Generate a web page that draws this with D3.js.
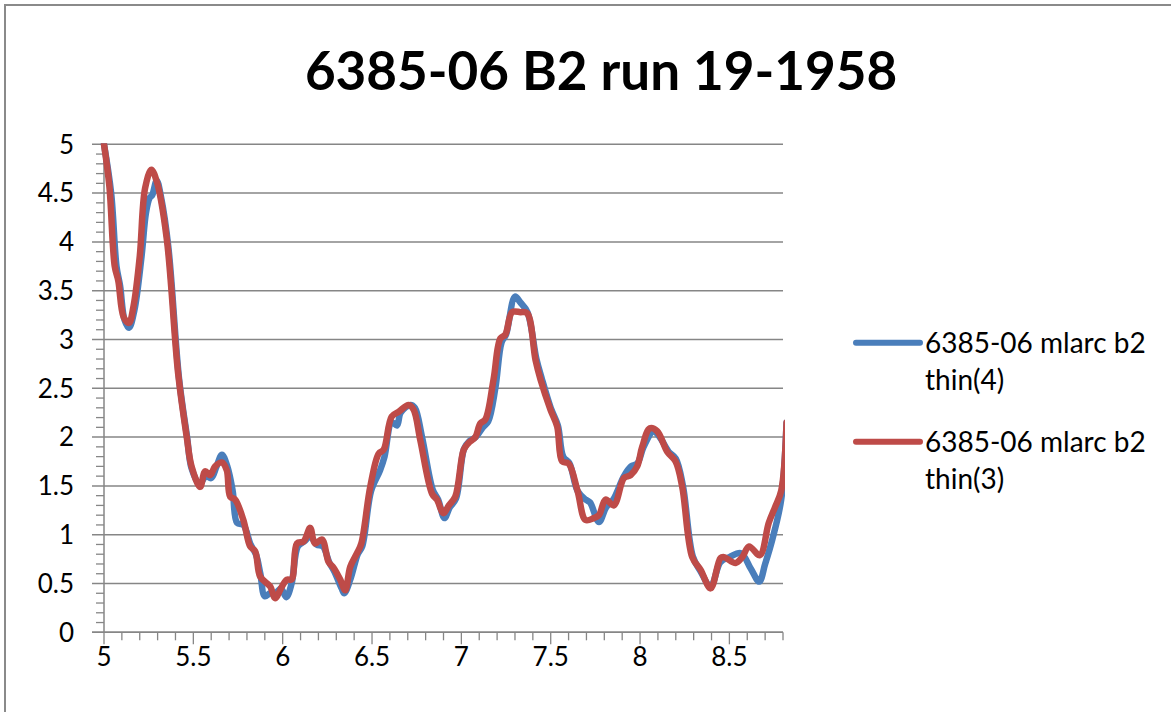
<!DOCTYPE html>
<html>
<head>
<meta charset="utf-8">
<script src="https://cdn.jsdelivr.net/npm/d3@7"></script>
<style>
  html, body { margin: 0; padding: 0; background: #fff; }
  svg { display: block; }
  text { font-family: Lato, "Open Sans", sans-serif; fill: #000; }
</style>
</head>
<body>
<svg id="chart" width="1171" height="712"></svg>
<script>
// Series thin(4)
const blueX = [5.00, 5.04, 5.07, 5.09, 5.115, 5.14, 5.17, 5.21, 5.235, 5.255, 5.27, 5.295, 5.32, 5.36, 5.42,
  5.465, 5.49, 5.535, 5.57, 5.60, 5.63, 5.66, 5.69, 5.72, 5.745, 5.78, 5.82, 5.85, 5.875, 5.90, 5.93, 5.96,
  5.99, 6.02, 6.05, 6.085, 6.12, 6.155, 6.19, 6.225, 6.26, 6.29, 6.33, 6.345, 6.38, 6.42, 6.445, 6.495,
  6.545, 6.57, 6.61, 6.64, 6.66, 6.715, 6.74, 6.78, 6.84, 6.87, 6.905, 6.935, 6.97, 7.015, 7.045, 7.08,
  7.12, 7.15, 7.19, 7.225, 7.25, 7.30, 7.33, 7.37, 7.42, 7.45, 7.50, 7.54, 7.57, 7.605, 7.65, 7.695, 7.72,
  7.77, 7.81, 7.85, 7.91, 7.95, 7.985, 8.02, 8.075, 8.11, 8.16, 8.20, 8.24, 8.295, 8.34, 8.395, 8.45, 8.50,
  8.565, 8.62, 8.667, 8.70, 8.74, 8.79, 8.82];
const blueY = [5.00, 4.50, 3.75, 3.55, 3.20, 3.12, 3.30, 3.85, 4.30, 4.45, 4.48, 4.63, 4.45, 3.95, 2.60,
  2.00, 1.68, 1.52, 1.60, 1.58, 1.70, 1.82, 1.70, 1.45, 1.12, 1.10, 0.90, 0.80, 0.60, 0.37, 0.40, 0.40,
  0.45, 0.36, 0.50, 0.88, 0.93, 0.98, 0.90, 0.88, 0.72, 0.62, 0.45, 0.40, 0.55, 0.80, 0.88, 1.45,
  1.66, 1.80, 2.15, 2.12, 2.25, 2.33, 2.30, 2.00, 1.46, 1.36, 1.17, 1.28, 1.37, 1.88, 1.96, 2.00,
  2.10, 2.16, 2.50, 2.97, 3.05, 3.44, 3.38, 3.28, 2.80, 2.60, 2.30, 2.12, 1.80, 1.73, 1.45, 1.36, 1.33,
  1.13, 1.28, 1.36, 1.60, 1.70, 1.73, 1.90, 2.06, 2.00, 1.85, 1.78, 1.50, 0.78, 0.62, 0.47, 0.72, 0.77,
  0.81, 0.65, 0.52, 0.70, 0.95, 1.36, 2.15];

// Series thin(3)
const redX = [5.00, 5.03, 5.06, 5.08, 5.11, 5.14, 5.165, 5.20, 5.23, 5.265, 5.295, 5.35, 5.415, 5.463,
  5.49, 5.538, 5.566, 5.594, 5.622, 5.66, 5.687, 5.706, 5.734, 5.78, 5.818, 5.846, 5.874, 5.93, 5.958,
  5.996, 6.024, 6.05, 6.08, 6.117, 6.154, 6.18, 6.22, 6.257, 6.285, 6.322, 6.35, 6.378, 6.416, 6.44, 6.49,
  6.537, 6.565, 6.61, 6.65, 6.705, 6.733, 6.77, 6.836, 6.863, 6.90, 6.93, 6.966, 7.013, 7.04, 7.078,
  7.106, 7.134, 7.18, 7.218, 7.246, 7.284, 7.33, 7.368, 7.415, 7.443, 7.499, 7.536, 7.564, 7.60, 7.65,
  7.695, 7.741, 7.77, 7.807, 7.853, 7.91, 7.947, 7.984, 8.012, 8.055, 8.096, 8.152, 8.199, 8.236, 8.292,
  8.339, 8.395, 8.45, 8.47, 8.535, 8.572, 8.61, 8.67, 8.72, 8.755, 8.79, 8.82];
const redY = [5.00, 4.57, 3.75, 3.60, 3.23, 3.17, 3.34, 3.85, 4.55, 4.74, 4.62, 4.05, 2.65, 2.00,
  1.70, 1.49, 1.65, 1.61, 1.70, 1.74, 1.66, 1.39, 1.36, 1.15, 0.88, 0.83, 0.57, 0.47, 0.35,
  0.47, 0.54, 0.54, 0.91, 0.93, 1.07, 0.91, 0.95, 0.72, 0.66, 0.54, 0.43, 0.67, 0.81, 0.91, 1.49,
  1.83, 1.87, 2.21, 2.26, 2.33, 2.28, 1.97, 1.42, 1.36, 1.22, 1.30, 1.39, 1.87, 1.94, 2.00,
  2.14, 2.18, 2.59, 3.01, 3.05, 3.28, 3.28, 3.27, 2.79, 2.59, 2.28, 2.11, 1.75, 1.73, 1.45,
  1.15, 1.17, 1.20, 1.36, 1.30, 1.58, 1.61, 1.70, 1.90, 2.09, 2.06, 1.85, 1.75, 1.49, 0.77,
  0.64, 0.45, 0.76, 0.77, 0.71, 0.77, 0.88, 0.79, 1.12, 1.28, 1.45, 2.15];

const seriesNames = ["6385-06 mlarc b2 thin(4)", "6385-06 mlarc b2 thin(3)"];
const seriesColors = ["#4A7EBB", "#BE4B48"];
const titleText = "6385-06 B2 run 19-1958";

const xTicks = [5, 5.5, 6, 6.5, 7, 7.5, 8, 8.5];
const yTicks = [0, 0.5, 1, 1.5, 2, 2.5, 3, 3.5, 4, 4.5, 5];

const svg = d3.select("#chart");
const plot = { left: 104, right: 783, top: 144.3, bottom: 632.3 };

const x = d3.scaleLinear().domain([5, 8.8]).range([plot.left, plot.right]);
const y = d3.scaleLinear().domain([0, 5]).range([plot.bottom, plot.top]);

const gridColor = "#868686";

// chart area frame
svg.append("rect")
  .attr("x", 5).attr("y", 5).attr("width", 1400).attr("height", 1000)
  .attr("fill", "none").attr("stroke", "#8a8a8a").attr("stroke-width", 2);

// title
svg.append("text")
  .attr("x", 601).attr("y", 90)
  .attr("text-anchor", "middle")
  .style("font-size", "53px").style("font-weight", "bold")
  .text(titleText);

// horizontal gridlines with major y ticks
svg.append("g").selectAll("line").data(yTicks).join("line")
  .attr("x1", plot.left - 12).attr("x2", plot.right)
  .attr("y1", d => y(d)).attr("y2", d => y(d))
  .attr("stroke", gridColor).attr("stroke-width", 1.5);

// minor ticks
const yMinor = d3.range(0, 50).map(i => i / 10).filter(v => Math.abs(v * 2 - Math.round(v * 2)) > 1e-6);
svg.append("g").selectAll("line").data(yMinor).join("line")
  .attr("x1", plot.left - 8).attr("x2", plot.left)
  .attr("y1", d => y(d)).attr("y2", d => y(d))
  .attr("stroke", gridColor).attr("stroke-width", 1.3);

const xMinor = d3.range(50, 89).map(i => i / 10);
svg.append("g").selectAll("line").data(xMinor).join("line")
  .attr("x1", d => x(d)).attr("x2", d => x(d))
  .attr("y1", plot.bottom)
  .attr("y2", d => plot.bottom + (Math.abs(d * 2 - Math.round(d * 2)) < 1e-6 ? 12 : 8))
  .attr("stroke", gridColor).attr("stroke-width", 1.3);

// axis lines
svg.append("line")
  .attr("x1", plot.left).attr("x2", plot.left)
  .attr("y1", plot.top).attr("y2", plot.bottom)
  .attr("stroke", gridColor).attr("stroke-width", 1.5);
svg.append("line")
  .attr("x1", plot.left - 12).attr("x2", plot.right)
  .attr("y1", plot.bottom).attr("y2", plot.bottom)
  .attr("stroke", gridColor).attr("stroke-width", 1.5);

const fmt = d3.format("~g");

// tick labels
svg.append("g").selectAll("text").data(yTicks).join("text")
  .attr("x", 74).attr("y", d => y(d))
  .attr("dy", "0.36em")
  .attr("text-anchor", "end")
  .style("font-size", "26px")
  .text(d => fmt(d));

svg.append("g").selectAll("text").data(xTicks).join("text")
  .attr("x", d => x(d)).attr("y", 666)
  .attr("text-anchor", "middle")
  .style("font-size", "26px")
  .text(d => fmt(d));

// data lines, clipped to the plot area
svg.append("clipPath").attr("id", "plotClip")
  .append("rect")
  .attr("x", plot.left - 4).attr("y", plot.top - 1)
  .attr("width", plot.right - plot.left + 6).attr("height", plot.bottom - plot.top + 4);

const line = d3.line()
  .x(d => x(d[0])).y(d => y(d[1]))
  .curve(d3.curveCatmullRom.alpha(0.5));

const series = [
  d3.zip(blueX, blueY),
  d3.zip(redX, redY)
];

svg.append("g").attr("clip-path", "url(#plotClip)")
  .selectAll("path").data(series).join("path")
  .attr("d", line)
  .attr("fill", "none")
  .attr("stroke", (d, i) => seriesColors[i])
  .attr("stroke-width", 6.5)
  .attr("stroke-linejoin", "round")
  .attr("stroke-linecap", "round");

// legend
const legend = svg.append("g");
const legendRows = [342.7, 441.7];
seriesNames.forEach((name, i) => {
  const cy = legendRows[i];
  legend.append("line")
    .attr("x1", 856).attr("x2", 920)
    .attr("y1", cy).attr("y2", cy)
    .attr("stroke", seriesColors[i]).attr("stroke-width", 6)
    .attr("stroke-linecap", "round");
  const parts = [name.slice(0, name.lastIndexOf(" ")), name.slice(name.lastIndexOf(" ") + 1)];
  const t = legend.append("text")
    .attr("x", 925).attr("y", cy + 10)
    .style("font-size", "28px");
  parts.forEach((p, j) => {
    t.append("tspan").attr("x", 925).attr("dy", j === 0 ? 0 : 37).text(p);
  });
});
</script>
</body>
</html>
